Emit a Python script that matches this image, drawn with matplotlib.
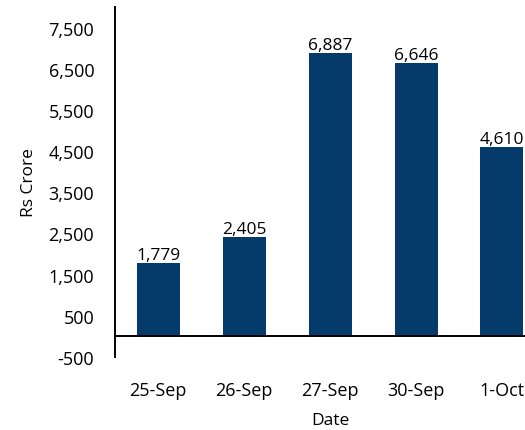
import matplotlib.pyplot as plt
from matplotlib.ticker import FuncFormatter

# Daily values, Rs crore
dates = ["25-Sep", "26-Sep", "27-Sep", "30-Sep", "1-Oct"]
values = [1779, 2405, 6887, 6646, 4610]
y_ticks = [-500, 500, 1500, 2500, 3500, 4500, 5500, 6500, 7500]

plt.rcParams["font.family"] = ["Open Sans", "DejaVu Sans"]

W, H = 525, 431
fig = plt.figure(figsize=(W / 100, H / 100), dpi=100)
ax = fig.add_axes([115 / W, (H - 358) / H, 430 / W, 350 / H])

x = list(range(len(dates)))
bars = ax.bar(x, values, width=0.5, color="#053b6b", zorder=2)
ax.bar_label(bars, labels=[f"{v:,}" for v in values], padding=0, fontsize=12.5)

ax.axhline(0, color="black", lw=1.4, zorder=3)

ax.set_xlim(-0.5, 4.5)
ax.set_ylim(-500, 8000)
ax.set_yticks(y_ticks)
ax.yaxis.set_major_formatter(FuncFormatter(lambda v, _: f"{int(v):,}"))
ax.set_xticks(x)
ax.set_xticklabels(dates)

ax.tick_params(axis="both", length=0, labelsize=13)
ax.tick_params(axis="y", pad=15)
ax.tick_params(axis="x", pad=17)

for side in ["top", "right", "bottom"]:
    ax.spines[side].set_visible(False)
ax.spines["left"].set_linewidth(1.4)

ax.set_ylabel("Rs Crore", fontsize=12.5, labelpad=8)
ax.set_xlabel("Date", fontsize=12.5, labelpad=10)

fig.savefig("out.png", dpi=100)
